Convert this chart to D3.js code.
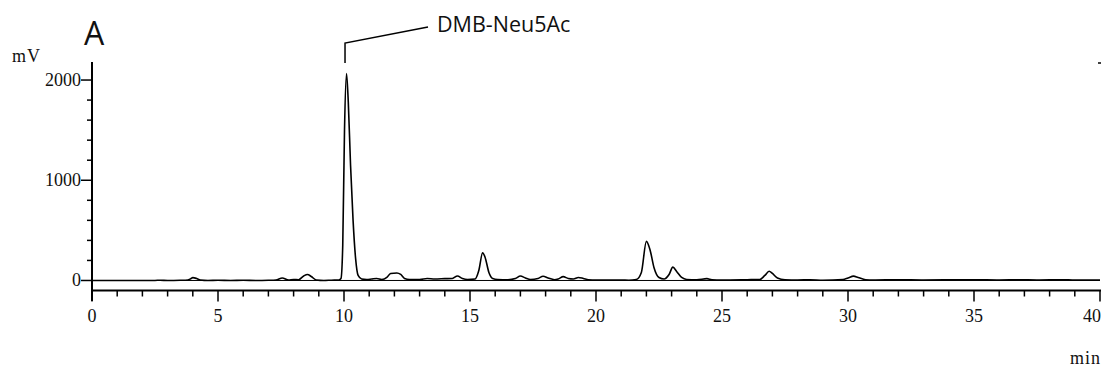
<!DOCTYPE html>
<html>
<head>
<meta charset="utf-8">
<script src="https://cdn.jsdelivr.net/npm/d3@7"></script>
<style>
  body { margin: 0; background: #fff; }
  svg { display: block; }
</style>
</head>
<body>
<svg id="chart" width="1106" height="376"></svg>
<script>
// retention time (min) and signal (mV)
const times = [
  0, 2.5, 2.7, 3.0, 3.5, 3.8, 3.92, 4.0, 4.15, 4.3, 4.6, 5.0, 5.5, 6.0, 6.5, 7.0, 7.3, 7.55, 7.8,
  8.0, 8.2, 8.4, 8.55, 8.7, 8.9, 9.2, 9.5, 9.8, 9.88, 9.95, 10.02, 10.1, 10.17, 10.26, 10.36, 10.46,
  10.56, 10.7, 10.9, 11.1, 11.3, 11.5, 11.7, 11.85, 12.1, 12.25, 12.4, 12.6, 13.0, 13.3, 13.6, 14.0,
  14.3, 14.5, 14.7, 14.9, 15.2, 15.35, 15.5, 15.6, 15.75, 15.9, 16.1, 16.5, 16.8, 17.0, 17.2, 17.4,
  17.7, 17.9, 18.1, 18.35, 18.5, 18.7, 18.9, 19.1, 19.3, 19.5, 19.7, 20.0, 21.0, 21.3, 21.6, 21.8,
  22.0, 22.15, 22.3, 22.5, 22.7, 22.9, 23.05, 23.2, 23.4, 23.6, 24.0, 24.4, 24.6, 25.0, 26.0, 26.5,
  26.7, 26.87, 27.0, 27.2, 27.5, 28.0, 28.5, 29.0, 29.8, 30.0, 30.22, 30.4, 30.7, 31.0, 32.0, 33.0,
  34.0, 35.0, 36.0, 36.8, 37.5, 38.5, 39.0, 40.0
];
const signal = [
  0, 0, 3, 0, 2, 5, 18, 28, 20, 5, 0, 3, 0, 3, 0, 2, 5, 25, 5,
  10, 8, 45, 60, 40, 5, 0, 3, 5, 20, 350, 1500, 2065, 1780, 1150, 600, 220,
  50, 15, 10, 15, 20, 10, 30, 70, 75, 60, 20, 10, 10, 20, 15, 18,
  20, 45, 20, 10, 15, 100, 275, 230, 80, 20, 10, 8, 20, 45, 25, 10,
  20, 42, 25, 8, 15, 38, 20, 15, 30, 20, 8, 5, 5, 3, 10, 80,
  390, 300, 130, 30, 15, 60, 133, 90, 30, 10, 8, 18, 8, 5, 8, 10,
  50, 92, 70, 25, 8, 5, 8, 3, 10, 25, 43, 30, 8, 5, 8, 5,
  6, 8, 5, 8, 5, 8, 4, 4
];

const xMajor = [0, 5, 10, 15, 20, 25, 30, 35, 40];
const yMajor = [0, 1000, 2000];
const peakLabel = "DMB-Neu5Ac";
const peakTime = 10.1;
const panelLetter = "A";

const serif = "'Liberation Serif', 'Times New Roman', Times, serif";
const sans = "'Open Sans', 'Noto Sans', 'DejaVu Sans', sans-serif";

const svg = d3.select('#chart');

const x = d3.scaleLinear().domain([0, 40]).range([92, 1100]);
const y = d3.scaleLinear().domain([-100, 2180]).range([290.5, 62]);

// y axis
const yAxis = svg.append('g');
yAxis.append('line')
  .attr('x1', x(0)).attr('x2', x(0))
  .attr('y1', y(2180)).attr('y2', 301)
  .attr('stroke', '#000').attr('stroke-width', 2);

const yMinor = d3.range(0, 2001, 200).filter(v => !yMajor.includes(v));
yAxis.selectAll('.ymin').data(yMinor).join('line')
  .attr('x1', x(0) - 5).attr('x2', x(0))
  .attr('y1', d => y(d)).attr('y2', d => y(d))
  .attr('stroke', '#000').attr('stroke-width', 1.5);
yAxis.selectAll('.ymaj').data(yMajor).join('line')
  .attr('x1', x(0) - 11).attr('x2', x(0))
  .attr('y1', d => y(d)).attr('y2', d => y(d))
  .attr('stroke', '#000').attr('stroke-width', 1.5);
yAxis.selectAll('text').data(yMajor).join('text')
  .attr('font-family', serif).attr('font-size', 18).attr('fill', '#111')
  .attr('x', x(0) - 11).attr('y', d => y(d) + 6)
  .attr('text-anchor', 'end')
  .text(d => d);

// x axis
const xAxis = svg.append('g');
xAxis.append('line')
  .attr('x1', x(0) - 1).attr('x2', x(40) + 1)
  .attr('y1', y(-100)).attr('y2', y(-100))
  .attr('stroke', '#000').attr('stroke-width', 2);
const xMinor = d3.range(0, 41, 1).filter(v => !xMajor.includes(v));
xAxis.selectAll('.xmin').data(xMinor).join('line')
  .attr('x1', d => x(d)).attr('x2', d => x(d))
  .attr('y1', y(-100)).attr('y2', y(-100) + 6)
  .attr('stroke', '#000').attr('stroke-width', 1.5);
xAxis.selectAll('.xmaj').data(xMajor).join('line')
  .attr('x1', d => x(d)).attr('x2', d => x(d))
  .attr('y1', y(-100)).attr('y2', y(-100) + 11)
  .attr('stroke', '#000').attr('stroke-width', 1.5);
xAxis.selectAll('text').data(xMajor).join('text')
  .attr('font-family', serif).attr('font-size', 18).attr('fill', '#111')
  .attr('x', d => d === 40 ? x(d) + 1 : x(d)).attr('y', 322)
  .attr('text-anchor', d => d === 40 ? 'end' : 'middle')
  .text(d => d);

// baseline at 0 mV (through the zero tick)
svg.append('line')
  .attr('x1', x(0)).attr('x2', x(40))
  .attr('y1', y(0)).attr('y2', y(0))
  .attr('stroke', '#000').attr('stroke-width', 1);

// trace
const pts = times.map((t, i) => [t, signal[i]]);
svg.append('path')
  .datum(pts)
  .attr('fill', 'none')
  .attr('stroke', '#000')
  .attr('stroke-width', 1.6)
  .attr('stroke-linejoin', 'round')
  .attr('d', d3.line().x(d => x(d[0])).y(d => y(d[1])).curve(d3.curveMonotoneX));

// axis titles
svg.append('text')
  .attr('font-family', serif).attr('font-size', 18).attr('fill', '#111')
  .attr('x', 12).attr('y', 62)
  .attr('letter-spacing', 1)
  .text('mV');
svg.append('text')
  .attr('font-family', serif).attr('font-size', 18).attr('fill', '#111')
  .attr('x', 1101).attr('y', 364)
  .attr('text-anchor', 'end')
  .attr('letter-spacing', 1)
  .text('min');

// little mark at top right
svg.append('line')
  .attr('x1', x(40) - 2).attr('x2', x(40) + 1)
  .attr('y1', 63).attr('y2', 63)
  .attr('stroke', '#000').attr('stroke-width', 1.5);

// panel letter
svg.append('text')
  .attr('font-family', sans).attr('font-size', 32).attr('fill', '#111')
  .attr('x', 84).attr('y', 45)
  .text(panelLetter);

// peak annotation
const px = x(peakTime) - 1.5;
svg.append('path')
  .attr('d', `M${px},63 L${px},43 L428,27`)
  .attr('fill', 'none')
  .attr('stroke', '#000')
  .attr('stroke-width', 1.5);
svg.append('text')
  .attr('font-family', sans).attr('font-size', 21.5).attr('fill', '#111')
  .attr('x', 437).attr('y', 32)
  .text(peakLabel);
</script>
</body>
</html>
